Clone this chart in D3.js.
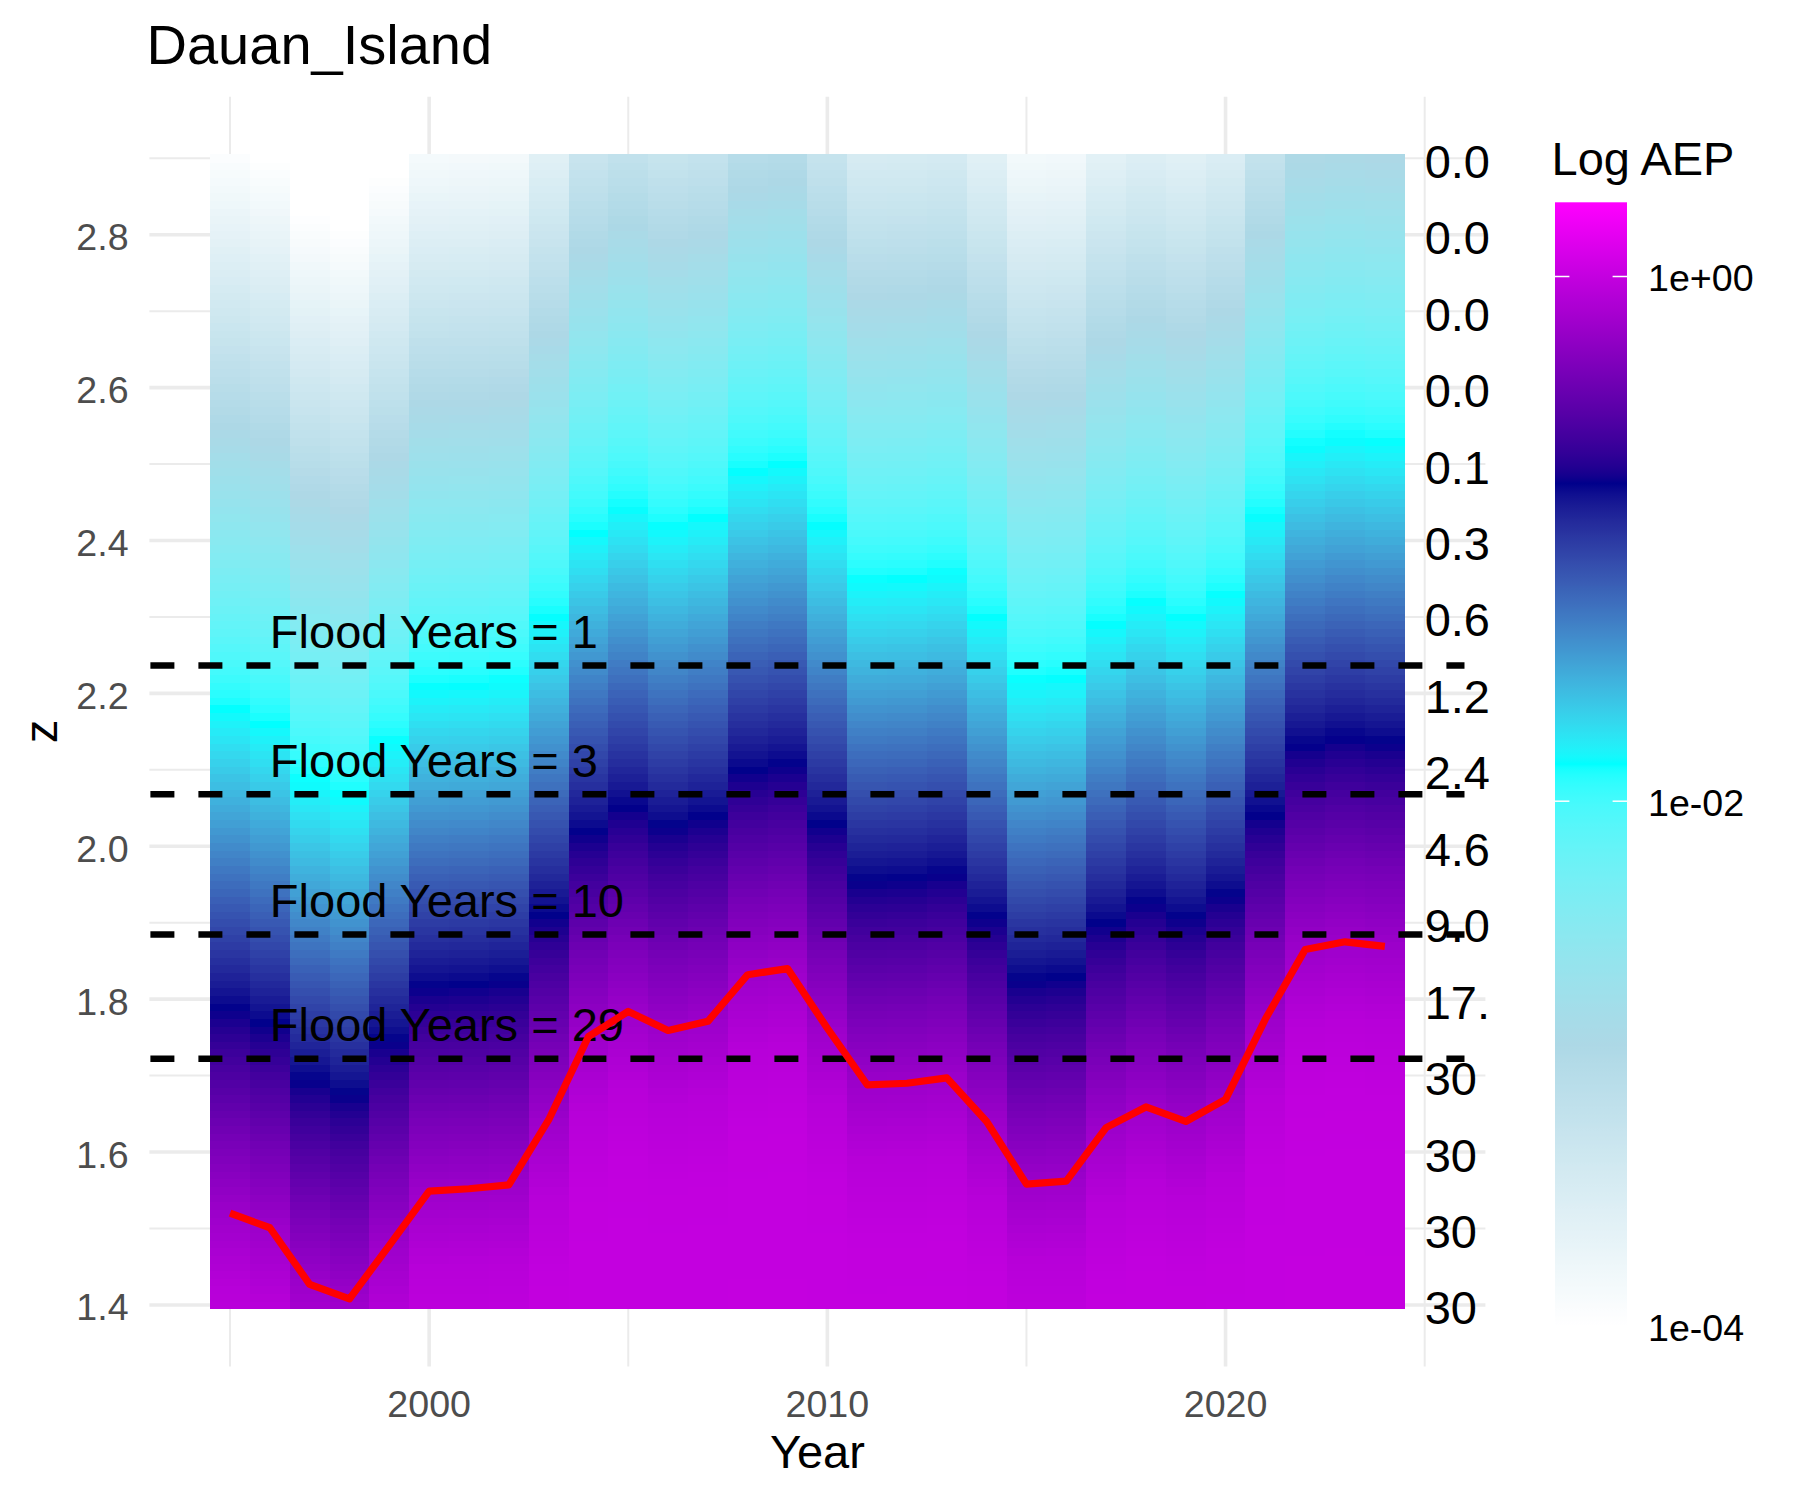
<!DOCTYPE html>
<html>
<head>
<meta charset="utf-8">
<script src="https://cdn.jsdelivr.net/npm/d3@7/dist/d3.min.js"></script>
<style>
  html, body { margin: 0; padding: 0; background: #fff; }
  svg { display: block; }
  text { font-family: "Liberation Sans", Arial, "DejaVu Sans", sans-serif; }
</style>
</head>
<body>
<svg id="chart" width="1800" height="1500"></svg>
<script>
// ---------------- DATA ----------------
const years = d3.range(1995, 2025);
// red line: annual level per year (z)
const annualLevel = [1.520, 1.501, 1.427, 1.408, 1.478, 1.549, 1.552, 1.557, 1.642, 1.751,
                     1.784, 1.759, 1.771, 1.832, 1.840, 1.762, 1.688, 1.690, 1.697, 1.640,
                     1.558, 1.562, 1.632, 1.659, 1.640, 1.669, 1.774, 1.865, 1.875, 1.869];
// AEP profile: log10(AEP) versus height above that year's level
const profileHeight = [-0.60, -0.40, -0.30, -0.20, -0.10, 0.00, 0.10, 0.20, 0.268, 0.40, 0.50, 0.66, 0.80, 0.90, 1.03, 1.20, 1.40, 1.60];
const profileLogAEP = [ 0.000, -0.001, -0.003, -0.012, -0.060, -0.190, -0.380, -0.610, -0.790, -1.150, -1.430, -1.860, -2.250, -2.540, -2.930, -3.420, -4.000, -4.000];
// heatmap rows (z)
const zRows = d3.range(140, 291).map(i => i / 100);
// flood thresholds
const floodLevels = [2.2366, 2.0681, 1.8846, 1.7222];
const floodYears = [1, 3, 10, 29];
// right-hand labels
const rightLabelZ = [2.9, 2.8, 2.7, 2.6, 2.5, 2.4, 2.3, 2.2, 2.1, 2.0, 1.9, 1.8, 1.7, 1.6, 1.5, 1.4];
const rightLabels = ["0.0", "0.0", "0.0", "0.0", "0.1", "0.3", "0.6", "1.2", "2.4", "4.6", "9.0", "17.", "30", "30", "30", "30"];
// axes
const yMajor = [1.4, 1.6, 1.8, 2.0, 2.2, 2.4, 2.6, 2.8];
const yMinor = [1.5, 1.7, 1.9, 2.1, 2.3, 2.5, 2.7, 2.9];
const xMajor = [2000, 2010, 2020];
const xMinor = [1995, 2005, 2015, 2025];
// colour legend
const aepLimits = [1e-4, 1.918];
const legendBreaks = [1e-4, 1e-2, 1e0];
const legendLabels = ["1e-04", "1e-02", "1e+00"];
const paletteColours = ["white", "lightblue", "cyan", "darkblue", "magenta"];

// ---------------- SCALES ----------------
const svg = d3.select("#chart");
svg.append("rect").attr("width", 1800).attr("height", 1500).attr("fill", "#fff");

const panel = { left: 149.4, right: 1485.4, top: 96.7, bottom: 1366.5 };

const xData = [d3.min(years) - 0.5, 2025];
const xPad = 0.05 * (xData[1] - xData[0]);
const x = d3.scaleLinear().domain([xData[0] - xPad, xData[1] + xPad]).range([panel.left, panel.right]);

const zData = [d3.min(zRows) - 0.005, d3.max(zRows) + 0.005];
const zPad = 0.05 * (zData[1] - zData[0]);
const y = d3.scaleLinear().domain([zData[0] - zPad, zData[1] + zPad]).range([panel.bottom, panel.top]);

const profile = d3.scaleLinear().domain(profileHeight).range(profileLogAEP).clamp(true);

const logMin = Math.log10(aepLimits[0]), logMax = Math.log10(aepLimits[1]);
const colourStops = paletteColours.map((c, i) => logMin + i * (logMax - logMin) / (paletteColours.length - 1));
const colour = d3.scaleLinear().domain(colourStops).range(paletteColours)
  .interpolate(d3.interpolateLab).clamp(true);

const FS_BASE = 47, FS_AXIS = 37.6, FS_TITLE = 56, FS_GEOM = 47;

// ---------------- GRID ----------------
const grid = svg.append("g");
grid.selectAll(".ymin").data(yMinor).join("line")
  .attr("x1", panel.left).attr("x2", panel.right)
  .attr("y1", d => y(d)).attr("y2", d => y(d))
  .attr("stroke", "#ebebeb").attr("stroke-width", 2);
grid.selectAll(".xmin").data(xMinor).join("line")
  .attr("y1", panel.top).attr("y2", panel.bottom)
  .attr("x1", d => x(d)).attr("x2", d => x(d))
  .attr("stroke", "#ebebeb").attr("stroke-width", 2);
grid.selectAll(".ymaj").data(yMajor).join("line")
  .attr("x1", panel.left).attr("x2", panel.right)
  .attr("y1", d => y(d)).attr("y2", d => y(d))
  .attr("stroke", "#ebebeb").attr("stroke-width", 3.6);
grid.selectAll(".xmaj").data(xMajor).join("line")
  .attr("y1", panel.top).attr("y2", panel.bottom)
  .attr("x1", d => x(d)).attr("x2", d => x(d))
  .attr("stroke", "#ebebeb").attr("stroke-width", 3.6);

// ---------------- HEATMAP ----------------
const cells = [];
years.forEach((yr, i) => {
  zRows.forEach(z => {
    cells.push({ year: yr, z: z, logAEP: profile(z - annualLevel[i]) });
  });
});
svg.append("g").attr("shape-rendering", "crispEdges")
  .selectAll("rect").data(cells).join("rect")
  .attr("x", d => x(d.year - 0.5))
  .attr("width", d => x(d.year + 0.5) - x(d.year - 0.5) + 0.6)
  .attr("y", d => y(d.z + 0.005))
  .attr("height", d => y(d.z - 0.005) - y(d.z + 0.005) + 0.6)
  .attr("fill", d => colour(d.logAEP));

// ---------------- FLOOD LINES & TEXT ----------------
svg.append("g").selectAll("line").data(floodLevels).join("line")
  .attr("x1", x(1993)).attr("x2", x(2026))
  .attr("y1", d => y(d)).attr("y2", d => y(d))
  .attr("stroke", "#000").attr("stroke-width", 6.5)
  .attr("stroke-dasharray", "24,24");

svg.append("g").selectAll("text").data(floodLevels).join("text")
  .attr("x", x(1996))
  .attr("y", d => y(d) - 17.6)
  .attr("font-size", FS_GEOM)
  .attr("fill", "#000")
  .text((d, i) => "Flood Years = " + floodYears[i]);

svg.append("g").selectAll("text").data(rightLabelZ).join("text")
  .attr("x", x(2025))
  .attr("y", d => y(d) + 19.5)
  .attr("font-size", FS_GEOM)
  .attr("fill", "#000")
  .text((d, i) => rightLabels[i]);

// ---------------- RED LINE ----------------
const line = d3.line().x((d, i) => x(years[i])).y(d => y(d));
svg.append("path").datum(annualLevel)
  .attr("d", line)
  .attr("fill", "none")
  .attr("stroke", "#ff0000")
  .attr("stroke-width", 7.2)
  .attr("stroke-linejoin", "round");

// ---------------- AXES ----------------
svg.append("g").selectAll("text").data(yMajor).join("text")
  .attr("x", panel.left - 20.8)
  .attr("y", d => y(d) + 15.5)
  .attr("text-anchor", "end")
  .attr("font-size", FS_AXIS)
  .attr("fill", "#4d4d4d")
  .text(d => d3.format(".1f")(d));

svg.append("g").selectAll("text").data(xMajor).join("text")
  .attr("x", d => x(d))
  .attr("y", 1416.8)
  .attr("text-anchor", "middle")
  .attr("font-size", FS_AXIS)
  .attr("fill", "#4d4d4d")
  .text(d => d);

svg.append("text")
  .attr("x", (panel.left + panel.right) / 2)
  .attr("y", 1467.5)
  .attr("text-anchor", "middle")
  .attr("font-size", FS_BASE)
  .attr("fill", "#000")
  .text("Year");

svg.append("text")
  .attr("transform", `translate(57.4,${(panel.top + panel.bottom) / 2}) rotate(-90)`)
  .attr("text-anchor", "middle")
  .attr("font-size", FS_BASE)
  .attr("fill", "#000")
  .text("z");

svg.append("text")
  .attr("x", 146.5)
  .attr("y", 63.6)
  .attr("font-size", FS_TITLE)
  .attr("fill", "#000")
  .text("Dauan_Island");

// ---------------- LEGEND ----------------
const bar = { x: 1555, w: 72, top: 202.3, bottom: 1325.9 };
const legendY = d3.scaleLog().domain(aepLimits).range([bar.bottom, bar.top]);

const defs = svg.append("defs");
const grad = defs.append("linearGradient").attr("id", "aepGrad")
  .attr("x1", 0).attr("y1", 1).attr("x2", 0).attr("y2", 0);
d3.range(0, 301).forEach(k => {
  const t = k / 300;
  grad.append("stop").attr("offset", t)
    .attr("stop-color", colour(logMin + t * (logMax - logMin)));
});
svg.append("rect")
  .attr("x", bar.x).attr("y", bar.top)
  .attr("width", bar.w).attr("height", bar.bottom - bar.top)
  .attr("fill", "url(#aepGrad)");

const tickG = svg.append("g");
tickG.selectAll(".tl").data(legendBreaks).join("line")
  .attr("x1", bar.x).attr("x2", bar.x + bar.w / 5)
  .attr("y1", d => legendY(d)).attr("y2", d => legendY(d))
  .attr("stroke", "#fff").attr("stroke-width", 1.5);
tickG.selectAll(".tr").data(legendBreaks).join("line")
  .attr("x1", bar.x + bar.w - bar.w / 5).attr("x2", bar.x + bar.w)
  .attr("y1", d => legendY(d)).attr("y2", d => legendY(d))
  .attr("stroke", "#fff").attr("stroke-width", 1.5);

svg.append("g").selectAll("text").data(legendBreaks).join("text")
  .attr("x", bar.x + bar.w + 21)
  .attr("y", d => legendY(d) + 14.9)
  .attr("font-size", FS_AXIS)
  .attr("fill", "#000")
  .text((d, i) => legendLabels[i]);

svg.append("text")
  .attr("x", 1551.5)
  .attr("y", 174.6)
  .attr("font-size", FS_BASE)
  .attr("fill", "#000")
  .text("Log AEP");
</script>
</body>
</html>
